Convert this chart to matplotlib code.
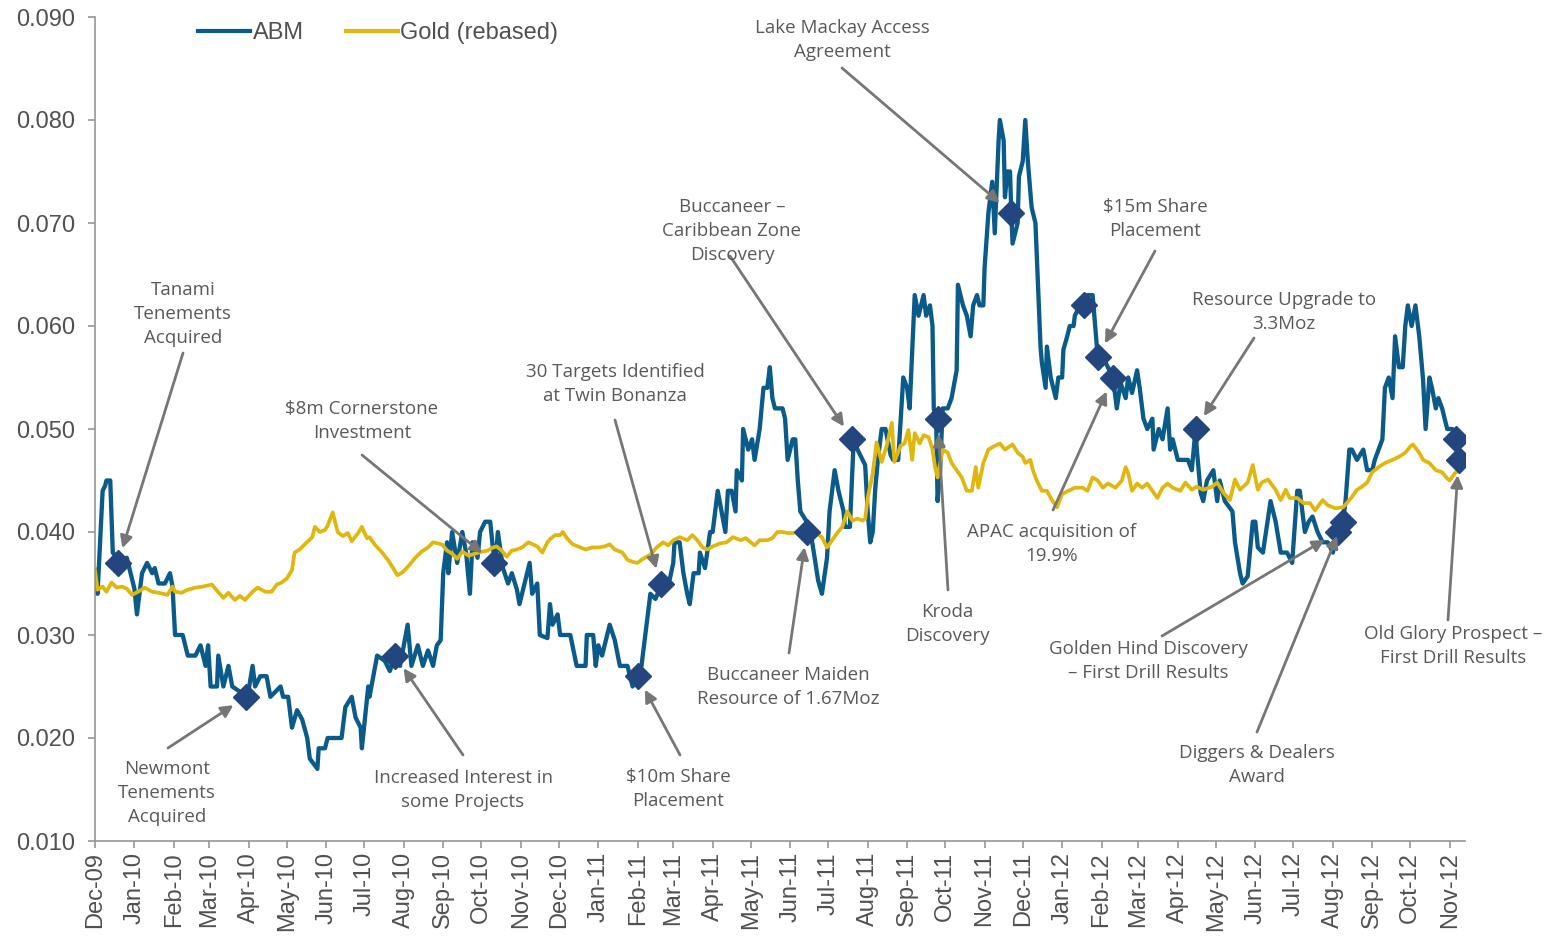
import matplotlib
matplotlib.use('Agg')
import matplotlib.pyplot as plt
import matplotlib.dates as mdates
import pandas as pd
import numpy as np

# ABM share price, days since 1-Dec-2009
abm_day = [0, 2, 6, 8, 9, 12, 14, 17, 20, 25, 28, 31, 33, 35, 37, 41, 43, 45, 47, 50,
           55, 59, 61, 63, 69, 73, 79, 83, 87, 89, 91, 96, 97, 101, 105, 108, 114, 120, 124, 126,
           130, 135, 138, 146, 148, 152, 155, 159, 163, 167, 169, 175, 176, 181, 183, 194, 197, 202, 205, 209,
           210, 215, 216, 222, 228, 232, 236, 240, 246, 249, 254, 258, 262, 266, 269, 272, 274, 277, 278, 281,
           285, 289, 292, 295, 297, 301, 303, 307, 311, 313, 315, 317, 321, 325, 328, 332, 334, 338, 342, 344,
           348, 350, 356, 358, 360, 364, 366, 374, 379, 386, 387, 392, 394, 396, 399, 401, 405, 409, 413, 419,
           423, 427, 430, 433, 435, 437, 441, 446, 451, 455, 456, 460, 463, 466, 468, 471, 475, 476, 480, 484,
           486, 490, 493, 496, 498, 501, 504, 505, 509, 510, 514, 517, 519, 523, 526, 529, 531, 533, 535, 541,
           543, 545, 549, 551, 553, 555, 560, 563, 565, 569, 572, 576, 578, 582, 585, 589, 590, 594, 597, 600,
           604, 606, 608, 610, 612, 614, 616, 619, 622, 626, 628, 632, 636, 639, 641, 645, 648, 652, 654, 657,
           659, 660, 662, 663, 665, 667, 671, 674, 678, 679, 683, 686, 689, 691, 694, 696, 699, 700, 703, 706,
           708, 711, 712, 715, 716, 718, 720, 721, 722, 726, 727, 730, 732, 734, 737, 740, 741, 744, 745, 748,
           749, 752, 756, 758, 761, 762, 765, 767, 770, 771, 775, 778, 781, 785, 789, 793, 795, 797, 801, 804,
           807, 811, 813, 816, 820, 822, 825, 828, 832, 833, 837, 840, 844, 846, 848, 852, 860, 863, 866, 867,
           870, 872, 875, 880, 883, 885, 889, 895, 897, 901, 903, 907, 911, 913, 915, 919, 925, 929, 933, 938,
           942, 946, 948, 952, 955, 958, 962, 966, 970, 974, 978, 982, 984, 987, 989, 993, 998, 1001, 1005, 1007,
           1013, 1015, 1018, 1021, 1023, 1026, 1029, 1031, 1033, 1036, 1039, 1042, 1045, 1047, 1050, 1052, 1055, 1057, 1060, 1064,
           1068, 1071, 1073]
abm_val = [0.0363, 0.034, 0.044, 0.0445, 0.045, 0.045, 0.038, 0.0375, 0.037, 0.0375, 0.036, 0.0345, 0.032, 0.034, 0.036, 0.037, 0.0365, 0.036, 0.0365, 0.035,
           0.035, 0.036, 0.0347, 0.030, 0.030, 0.028, 0.028, 0.029, 0.027, 0.029, 0.025, 0.025, 0.028, 0.025, 0.027, 0.025, 0.0245, 0.024, 0.027, 0.025,
           0.026, 0.026, 0.024, 0.025, 0.024, 0.024, 0.021, 0.0227, 0.0218, 0.020, 0.018, 0.017, 0.019, 0.019, 0.020, 0.020, 0.023, 0.024, 0.022, 0.021,
           0.019, 0.025, 0.024, 0.028, 0.0275, 0.0265, 0.028, 0.027, 0.031, 0.027, 0.029, 0.027, 0.0285, 0.027, 0.029, 0.0295, 0.036, 0.039, 0.036, 0.040,
           0.037, 0.040, 0.038, 0.034, 0.039, 0.0375, 0.040, 0.041, 0.041, 0.0385, 0.037, 0.040, 0.0365, 0.035, 0.036, 0.0344, 0.033, 0.035, 0.037, 0.034,
           0.035, 0.030, 0.0297, 0.033, 0.031, 0.032, 0.030, 0.030, 0.027, 0.027, 0.030, 0.030, 0.027, 0.029, 0.028, 0.029, 0.031, 0.0295, 0.027, 0.027,
           0.025, 0.026, 0.027, 0.030, 0.032, 0.034, 0.0335, 0.035, 0.0347, 0.037, 0.039, 0.039, 0.036, 0.034, 0.033, 0.036, 0.036, 0.038, 0.0365, 0.040,
           0.040, 0.044, 0.042, 0.040, 0.044, 0.044, 0.042, 0.046, 0.045, 0.050, 0.048, 0.049, 0.047, 0.050, 0.054, 0.054, 0.056, 0.053, 0.052, 0.052,
           0.051, 0.047, 0.049, 0.049, 0.045, 0.042, 0.041, 0.040, 0.0385, 0.0353, 0.034, 0.0375, 0.042, 0.046, 0.044, 0.042, 0.0405, 0.0405, 0.049, 0.048,
           0.047, 0.0465, 0.042, 0.039, 0.040, 0.0443, 0.047, 0.050, 0.050, 0.0475, 0.047, 0.047, 0.055, 0.054, 0.052, 0.063, 0.061, 0.063, 0.061, 0.062,
           0.060, 0.052, 0.050, 0.043, 0.046, 0.052, 0.052, 0.053, 0.0557, 0.064, 0.062, 0.061, 0.059, 0.062, 0.063, 0.062, 0.062, 0.0657, 0.071, 0.074,
           0.069, 0.078, 0.080, 0.078, 0.0725, 0.075, 0.075, 0.071, 0.068, 0.070, 0.0745, 0.076, 0.080, 0.076, 0.0715, 0.070, 0.067, 0.058, 0.0565, 0.054,
           0.058, 0.055, 0.053, 0.055, 0.055, 0.0577, 0.059, 0.060, 0.060, 0.061, 0.062, 0.062, 0.063, 0.063, 0.057, 0.0575, 0.0565, 0.056, 0.055, 0.052,
           0.0545, 0.053, 0.055, 0.0535, 0.0557, 0.054, 0.051, 0.050, 0.051, 0.048, 0.050, 0.049, 0.052, 0.048, 0.049, 0.047, 0.047, 0.046, 0.050, 0.048,
           0.0438, 0.043, 0.045, 0.046, 0.043, 0.045, 0.043, 0.042, 0.039, 0.036, 0.035, 0.0357, 0.041, 0.041, 0.0385, 0.038, 0.043, 0.041, 0.038, 0.038,
           0.037, 0.044, 0.044, 0.040, 0.041, 0.0415, 0.040, 0.039, 0.039, 0.038, 0.040, 0.041, 0.043, 0.048, 0.048, 0.047, 0.048, 0.046, 0.046, 0.047,
           0.049, 0.054, 0.055, 0.053, 0.059, 0.056, 0.056, 0.060, 0.062, 0.060, 0.062, 0.059, 0.0548, 0.050, 0.055, 0.054, 0.052, 0.053, 0.052, 0.050,
           0.050, 0.049, 0.047]

# Gold price rebased to ABM, days since 1-Dec-2009
gold_day = [0, 2, 6, 9, 13, 17, 21, 25, 29, 34, 39, 45, 50, 57, 61, 63, 68, 73, 79, 85,
            92, 96, 101, 105, 110, 114, 118, 124, 128, 134, 139, 143, 147, 151, 155, 157, 161, 165, 171, 173,
            177, 181, 183, 187, 191, 195, 199, 202, 207, 210, 214, 216, 220, 226, 231, 238, 242, 246, 252, 257,
            262, 266, 273, 277, 281, 285, 289, 294, 299, 305, 309, 313, 316, 320, 324, 328, 332, 336, 341, 348,
            352, 356, 358, 362, 366, 368, 372, 376, 380, 386, 391, 396, 401, 405, 409, 415, 419, 423, 427, 430,
            437, 442, 447, 451, 455, 460, 466, 470, 474, 478, 482, 486, 492, 497, 502, 508, 512, 516, 519, 523,
            529, 533, 537, 541, 545, 549, 553, 560, 567, 572, 576, 580, 584, 588, 592, 596, 600, 604, 606, 608,
            612, 615, 619, 623, 627, 629, 634, 637, 640, 643, 645, 649, 652, 656, 659, 661, 663, 667, 671, 674,
            678, 682, 686, 690, 693, 695, 699, 703, 707, 712, 716, 722, 726, 730, 732, 736, 738, 741, 745, 749,
            753, 757, 761, 766, 771, 777, 781, 785, 789, 793, 797, 803, 808, 811, 813, 816, 820, 824, 828, 832,
            836, 840, 844, 848, 854, 858, 863, 867, 872, 879, 883, 888, 893, 897, 901, 907, 911, 915, 918, 923,
            929, 933, 937, 940, 946, 951, 956, 960, 966, 970, 976, 982, 985, 989, 993, 997, 1001, 1005, 1010, 1015,
            1021, 1026, 1031, 1035, 1037, 1042, 1045, 1050, 1055, 1060, 1064, 1066, 1070, 1073]
gold_val = [0.0363, 0.0344, 0.0347, 0.0342, 0.0351, 0.0346, 0.0347, 0.0345, 0.0339, 0.0342, 0.0346, 0.0342, 0.0341, 0.0339, 0.0347, 0.0342, 0.0341, 0.0344, 0.0346, 0.0347,
            0.0349, 0.0343, 0.0336, 0.0341, 0.0334, 0.0338, 0.0334, 0.0342, 0.0346, 0.0342, 0.0342, 0.0349, 0.0351, 0.0355, 0.0363, 0.0380, 0.0383, 0.0388, 0.0395, 0.0405,
            0.0400, 0.0402, 0.0406, 0.0419, 0.0400, 0.0396, 0.0399, 0.0391, 0.0399, 0.0405, 0.0394, 0.0395, 0.0388, 0.0380, 0.0372, 0.0358, 0.0361, 0.0366, 0.0375, 0.0381,
            0.0385, 0.0390, 0.0388, 0.0382, 0.0379, 0.0374, 0.0381, 0.0377, 0.0379, 0.0381, 0.0382, 0.0385, 0.0386, 0.0382, 0.0376, 0.0382, 0.0383, 0.0385, 0.0390, 0.0386,
            0.0380, 0.0390, 0.0393, 0.0397, 0.0397, 0.0400, 0.0393, 0.0388, 0.0386, 0.0383, 0.0385, 0.0385, 0.0386, 0.0388, 0.0383, 0.0380, 0.0373, 0.0371, 0.0370, 0.0373,
            0.0378, 0.0385, 0.0390, 0.0387, 0.0392, 0.0395, 0.0392, 0.0397, 0.0392, 0.0385, 0.0383, 0.0386, 0.0389, 0.0390, 0.0395, 0.0392, 0.0394, 0.0390, 0.0387, 0.0392,
            0.0392, 0.0394, 0.0400, 0.0400, 0.0399, 0.0399, 0.0400, 0.0400, 0.0399, 0.0395, 0.0385, 0.0392, 0.0399, 0.0405, 0.0420, 0.0411, 0.0413, 0.0411, 0.0413, 0.0433,
            0.0457, 0.0487, 0.0468, 0.0484, 0.0506, 0.0468, 0.0484, 0.0486, 0.0499, 0.0470, 0.0496, 0.0486, 0.0494, 0.0492, 0.0480, 0.0463, 0.0453, 0.0480, 0.0477, 0.0467,
            0.0460, 0.0453, 0.0440, 0.0440, 0.0463, 0.0443, 0.0467, 0.0480, 0.0483, 0.0486, 0.0480, 0.0485, 0.0477, 0.0473, 0.0467, 0.0470, 0.0460, 0.0450, 0.0440, 0.0440,
            0.0431, 0.0424, 0.0437, 0.0440, 0.0443, 0.0443, 0.0440, 0.0453, 0.0450, 0.0443, 0.0447, 0.0443, 0.0450, 0.0463, 0.0457, 0.0440, 0.0447, 0.0443, 0.0447, 0.0440,
            0.0433, 0.0443, 0.0447, 0.0443, 0.0440, 0.0448, 0.0441, 0.0444, 0.0441, 0.0444, 0.0448, 0.0438, 0.0431, 0.0451, 0.0441, 0.0448, 0.0465, 0.0441, 0.0448, 0.0451,
            0.0441, 0.0431, 0.0441, 0.0433, 0.0433, 0.0428, 0.0428, 0.0421, 0.0431, 0.0426, 0.0423, 0.0424, 0.0428, 0.0434, 0.0441, 0.0444, 0.0448, 0.0458, 0.0463, 0.0467,
            0.0470, 0.0473, 0.0477, 0.0483, 0.0485, 0.0477, 0.0470, 0.0467, 0.0460, 0.0458, 0.0452, 0.0450, 0.0457, 0.0460]

# announcements marked on the ABM line
event_day = [18, 119, 236, 314, 427, 445, 560, 596, 663, 721, 778, 789, 801, 866, 978, 982, 1071, 1073]
event_val = [0.037, 0.024, 0.028, 0.037, 0.026, 0.035, 0.040, 0.049, 0.051, 0.071, 0.062, 0.057, 0.055, 0.050, 0.040, 0.041, 0.049, 0.047]
event_label = ['Tanami\nTenements\nAcquired', 'Newmont\nTenements\nAcquired', 'Increased Interest in\nsome Projects',
               '$8m Cornerstone\nInvestment', '$10m Share\nPlacement', '30 Targets Identified\nat Twin Bonanza',
               'Buccaneer Maiden\nResource of 1.67Moz', 'Buccaneer \u2013\nCaribbean Zone\nDiscovery', 'Kroda\nDiscovery',
               'Lake Mackay Access\nAgreement', '', '$15m Share\nPlacement', 'APAC acquisition of\n19.9%',
               'Resource Upgrade to\n3.3Moz', 'Golden Hind Discovery\n\u2013 First Drill Results', 'Diggers & Dealers\nAward',
               '', 'Old Glory Prospect \u2013\nFirst Drill Results']

# label centre and arrow tail, in pixels from the top-left of the image
label_xy = [(183, 314), (167, 793), (463, 790), (362, 421), (678, 789), (615, 384), (788, 687), (732, 231),
            (947, 624), (842, 40), None, (1155, 219), (1052, 544), (1284, 312), (1148, 661), (1257, 765), None, (1453, 646)]
tail_xy = [(183, 353), (168, 748), (463, 755), (362, 455), (680, 755), (615, 420), (789, 653), (730, 256),
           (948, 590), (842, 68), None, (1155, 251), (1053, 510), (1254, 338), (1162, 636), (1257, 732), None, (1448, 620)]

W, H = 1555, 939
start = pd.Timestamp('2009-12-01')
abm_dates = start + pd.to_timedelta(abm_day, unit='D')
gold_dates = start + pd.to_timedelta(gold_day, unit='D')
ev_dates = start + pd.to_timedelta(event_day, unit='D')

plt.rcParams['font.family'] = ['Liberation Sans', 'DejaVu Sans']
fig = plt.figure(figsize=(W / 100, H / 100), dpi=100)
ax = fig.add_axes([95 / W, (H - 841) / H, 1370 / W, 824 / H])

ax.plot(abm_dates, abm_val, color='#0B5B8A', lw=3.1, label='ABM', solid_joinstyle='round')
ax.plot(gold_dates, gold_val, color='#E0B70E', lw=2.7, label='Gold (rebased)', solid_joinstyle='round')
ax.plot(ev_dates, event_val, 'D', color='#24467E', ms=13, ls='none')

ax.set_ylim(0.010, 0.090)
ax.set_yticks(np.arange(0.010, 0.0901, 0.010))
ax.yaxis.set_major_formatter(matplotlib.ticker.FormatStrFormatter('%.3f'))
ax.set_xlim(start, start + pd.Timedelta(days=1078))
ax.xaxis.set_major_locator(mdates.MonthLocator())
ax.xaxis.set_major_formatter(mdates.DateFormatter('%b-%y'))
for lab in ax.get_xticklabels():
    lab.set_rotation(90)

for s in ['top', 'right']:
    ax.spines[s].set_visible(False)
for s in ['left', 'bottom']:
    ax.spines[s].set_color('#969696')
    ax.spines[s].set_linewidth(1.2)
ax.tick_params(axis='both', colors='#969696', length=5, width=1.2, labelsize=17, labelcolor='#505050')
ax.tick_params(axis='x', pad=3)
ax.tick_params(axis='y', pad=9)

leg = ax.legend(loc='upper left', bbox_to_anchor=(82 / 1370, 1.02), ncol=2, frameon=False, fontsize=17,
                handlelength=2.2, handletextpad=0.1, columnspacing=1.8)
for t in leg.get_texts():
    t.set_color('#505050')
for h in leg.get_lines():
    h.set_linewidth(3)

def fpx(p):
    return (p[0], H - p[1])

for d, v, lab, lxy, txy in zip(ev_dates, event_val, event_label, label_xy, tail_xy):
    if lxy is None:
        continue
    fig.text(lxy[0] / W, 1 - lxy[1] / H, lab, ha='center', va='center', fontsize=13.5, color='#595959',
             family=['Open Sans', 'DejaVu Sans'], linespacing=1.45)
    ax.annotate('', xy=(d, v), xycoords='data', xytext=fpx(txy), textcoords='figure pixels',
                arrowprops=dict(arrowstyle='-|>', color='#767676', lw=2, mutation_scale=18,
                                shrinkA=0, shrinkB=11))

fig.savefig('out.png', dpi=100)
